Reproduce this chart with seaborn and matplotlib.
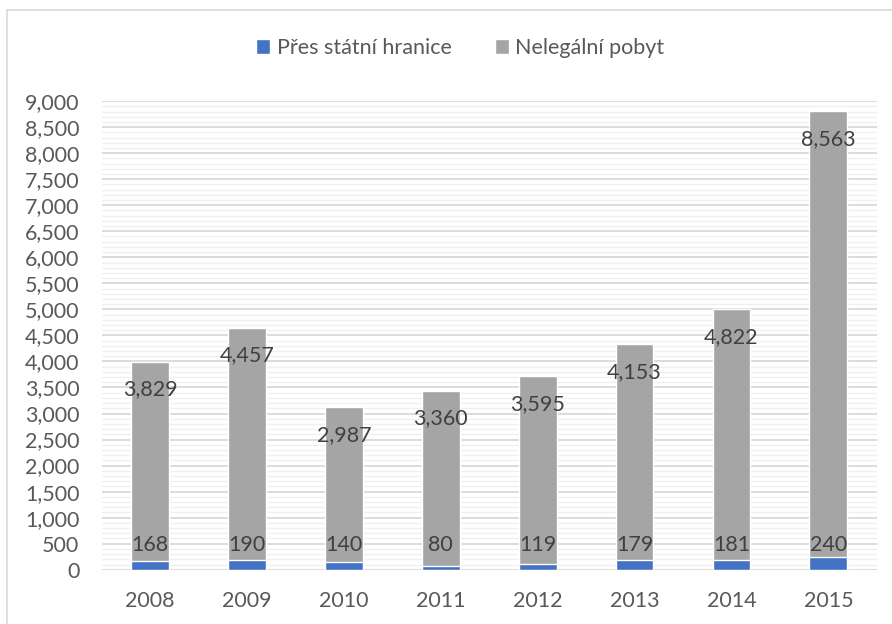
import numpy as np
import pandas as pd
import matplotlib.pyplot as plt
from matplotlib.patches import Rectangle, Patch
from matplotlib.ticker import MultipleLocator, FuncFormatter
import seaborn as sns

years = ["2008", "2009", "2010", "2011", "2012", "2013", "2014", "2015"]
border = [168, 190, 140, 80, 119, 179, 181, 240]
illegal = [3829, 4457, 2987, 3360, 3595, 4153, 4822, 8563]
series_names = ["Přes státní hranice", "Nelegální pobyt"]

BLUE = "#4472C4"
GRAY = "#A5A5A5"
TEXT = "#595959"
FS = 15.5

df = pd.DataFrame({"year": years, "border": border, "illegal": illegal})
df["total"] = df["border"] + df["illegal"]

sns.set_style("white")
plt.rcParams["font.family"] = ["Lato", "DejaVu Sans"]

fig = plt.figure(figsize=(8.92, 6.24), dpi=100)
ax = fig.add_axes([0.114, 0.087, 0.869, 0.751])

sns.barplot(data=df, x="year", y="total", color=GRAY, width=0.39,
            saturation=1, ax=ax, zorder=3)
sns.barplot(data=df, x="year", y="border", color=BLUE, width=0.39,
            saturation=1, ax=ax, zorder=4)

ax.set_xlim(-0.5, len(years) - 0.5)
ax.set_ylim(0, 9000)
ax.yaxis.set_major_locator(MultipleLocator(500))
ax.yaxis.set_minor_locator(MultipleLocator(100))
ax.yaxis.set_major_formatter(FuncFormatter(lambda v, p: f"{int(v):,}"))
ax.grid(True, which="major", axis="y", color="#D9D9D9", lw=1.3, zorder=0)
ax.grid(True, which="minor", axis="y", color="#F0F0F0", lw=1.0, zorder=0)
ax.set_axisbelow(True)
for s in ax.spines.values():
    s.set_visible(False)
ax.set_xlabel("")
ax.set_ylabel("")
ax.tick_params(axis="both", length=0, labelsize=FS, labelcolor=TEXT)
ax.tick_params(axis="x", pad=15)
ax.tick_params(axis="y", pad=16)

for i in range(len(years)):
    ax.annotate(f"{illegal[i]:,}", (i, df["total"][i]), xytext=(0, -20),
                textcoords="offset points", ha="center", va="center",
                fontsize=FS, color="#404040", zorder=5)
    ax.annotate(f"{border[i]:,}", (i, 0), xytext=(0, 18),
                textcoords="offset points", ha="center", va="center",
                fontsize=FS, color="#404040", zorder=5)

handles = [Patch(facecolor=BLUE), Patch(facecolor=GRAY)]
fig.legend(handles, series_names, loc="center", bbox_to_anchor=(0.516, 0.923),
           ncol=2, frameon=False, fontsize=15.5, labelcolor=TEXT,
           handlelength=0.65, handleheight=0.65, handletextpad=0.3,
           columnspacing=2.0)

fig.patches.append(Rectangle((0.008, -0.1), 1.2, 1.084, transform=fig.transFigure,
                             fill=False, edgecolor="#D9D9D9", lw=1.2))

fig.savefig("out.png", dpi=100)
